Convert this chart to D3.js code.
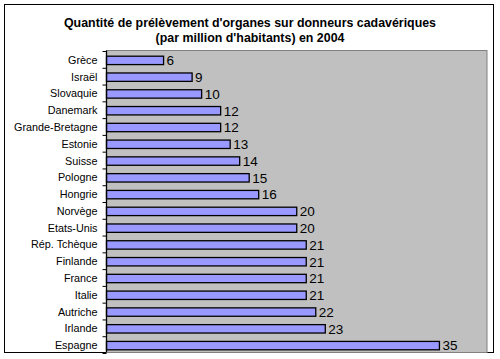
<!DOCTYPE html>
<html><head><meta charset="utf-8">
<script src="https://cdn.jsdelivr.net/npm/d3@7"></script>
<style>body{margin:0;background:#fff}svg{display:block}</style>
</head><body>
<svg id="c" width="500" height="359"></svg>
<script>
const categories = ["Grèce","Israël","Slovaquie","Danemark","Grande-Bretagne","Estonie","Suisse","Pologne","Hongrie","Norvège","Etats-Unis","Rép. Tchèque","Finlande","France","Italie","Autriche","Irlande","Espagne"];
const values = [6,9,10,12,12,13,14,15,16,20,20,21,21,21,21,22,23,35];
const titleLines = ["Quantité de prélèvement d'organes sur donneurs cadavériques","(par million d'habitants) en 2004"];
const xDomain = [0,40];

const svg = d3.select("#c");
const font = "'Liberation Sans', Arial, sans-serif";
const P = {left:106.5, right:487, top:50.5, bottom:352.5};

svg.append("rect").attr("x",4.5).attr("y",4.5).attr("width",489).attr("height",348)
  .attr("fill","#fff").attr("stroke","#000").attr("stroke-width",1);

svg.selectAll("text.title").data(titleLines).join("text").attr("class","title")
  .attr("x",250).attr("y",(d,i)=>27+i*15).attr("text-anchor","middle")
  .attr("font-family",font).attr("font-weight","bold").attr("font-size",12.4).attr("fill","#000")
  .text(d=>d);

const x = d3.scaleLinear().domain(xDomain).range([P.left,P.right]);
const y = d3.scaleBand().domain(categories).range([P.top,P.bottom]).paddingInner(0.5).paddingOuter(0.25);

svg.append("rect").attr("x",P.left).attr("y",P.top).attr("width",P.right-P.left).attr("height",P.bottom-P.top)
  .attr("fill","#c0c0c0").attr("stroke","#808080").attr("stroke-width",1);

svg.selectAll("rect.bar").data(values).join("rect").attr("class","bar")
  .attr("x",x(0)).attr("y",(d,i)=>y(categories[i])+1.5)
  .attr("width",d=>x(d)-x(0)).attr("height",y.bandwidth())
  .attr("fill","#9999ff").attr("stroke","#000").attr("stroke-width",1.3);

svg.selectAll("text.val").data(values).join("text").attr("class","val")
  .attr("x",d=>x(d)+3).attr("y",(d,i)=>y(categories[i])+1.5+y.bandwidth()/2)
  .attr("dy","0.36em").attr("font-family",font).attr("font-size",13.5).attr("fill","#000")
  .text(d=>d);

const yAxis = d3.axisLeft(y).tickSize(0).tickPadding(9);
const g = svg.append("g").attr("transform",`translate(${P.left},1.5)`).call(yAxis);
g.select(".domain").remove();
g.selectAll("text").attr("font-family",font).attr("font-size",10.8).attr("fill","#000");

// axis line and boundary ticks
svg.append("line").attr("x1",P.left).attr("x2",P.left).attr("y1",P.top).attr("y2",P.bottom).attr("stroke","#000").attr("stroke-width",1.3);
const bstep = (P.bottom-P.top)/categories.length;
svg.selectAll("line.tk").data(d3.range(categories.length+1)).join("line").attr("class","tk")
  .attr("x1",P.left-4).attr("x2",P.left).attr("y1",k=>P.top+1+k*bstep).attr("y2",k=>P.top+1+k*bstep)
  .attr("stroke","#000").attr("stroke-width",1);
</script>
</body></html>
